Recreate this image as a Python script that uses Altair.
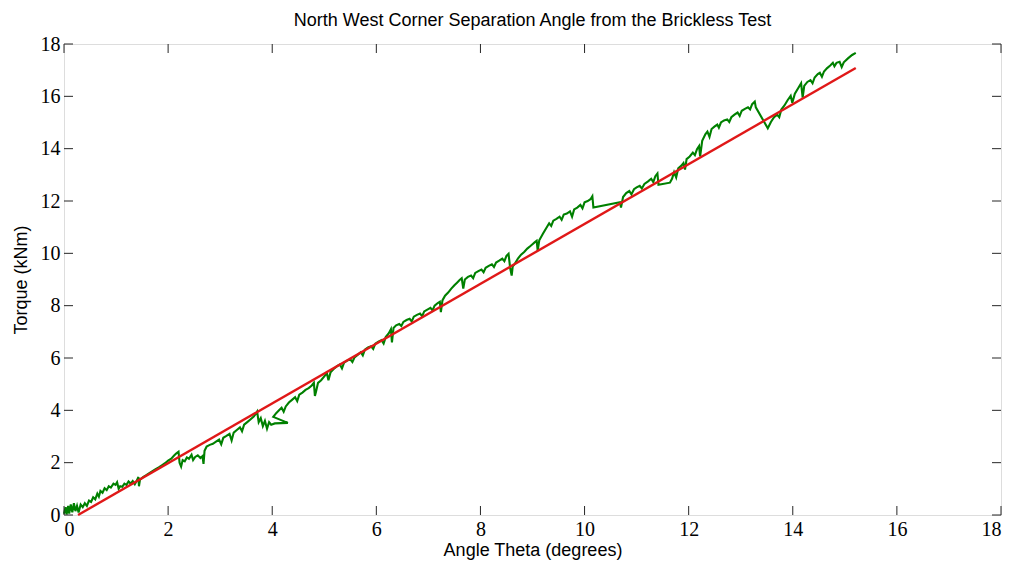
import altair as alt
import pandas as pd

# Measured torque vs. separation angle (degrees, kNm)
angle = [
    0.00, 0.03, 0.05, 0.08, 0.10, 0.13, 0.16, 0.19, 0.22, 0.25, 0.28, 0.32, 0.36, 0.40, 0.44, 0.48,
    0.52, 0.56, 0.60, 0.64, 0.67, 0.70, 0.74, 0.78, 0.82, 0.86, 0.90, 0.95, 0.99, 1.02, 1.05, 1.08,
    1.12, 1.16, 1.20, 1.24, 1.28, 1.32, 1.36, 1.40, 1.43, 1.44, 1.46, 1.52, 1.58, 1.64, 1.70, 1.76,
    1.82, 1.88, 1.94, 2.00, 2.06, 2.12, 2.16, 2.20, 2.22, 2.25, 2.28, 2.32, 2.36, 2.40, 2.45, 2.48,
    2.52, 2.57, 2.62, 2.66, 2.68, 2.70, 2.74, 2.80, 2.86, 2.92, 2.98, 3.02, 3.06, 3.12, 3.18, 3.22,
    3.26, 3.32, 3.38, 3.42, 3.46, 3.52, 3.58, 3.64, 3.68, 3.71, 3.74, 3.78, 3.82, 3.86, 3.90, 3.94,
    3.98, 4.05, 4.30, 4.02, 4.08, 4.14, 4.18, 4.22, 4.26, 4.32, 4.38, 4.44, 4.48, 4.52, 4.58, 4.64,
    4.70, 4.76, 4.80, 4.82, 4.84, 4.88, 4.94, 5.00, 5.05, 5.08, 5.12, 5.18, 5.24, 5.30, 5.34, 5.38,
    5.44, 5.50, 5.54, 5.58, 5.64, 5.70, 5.74, 5.78, 5.84, 5.90, 5.94, 5.98, 6.04, 6.10, 6.14, 6.18,
    6.24, 6.28, 6.30, 6.33, 6.38, 6.44, 6.48, 6.52, 6.58, 6.64, 6.68, 6.72, 6.78, 6.84, 6.88, 6.92,
    6.98, 7.04, 7.08, 7.12, 7.18, 7.22, 7.24, 7.27, 7.32, 7.38, 7.44, 7.50, 7.55, 7.60, 7.64, 7.67,
    7.70, 7.76, 7.82, 7.86, 7.90, 7.96, 8.02, 8.06, 8.10, 8.16, 8.22, 8.26, 8.30, 8.36, 8.42, 8.46,
    8.50, 8.54, 8.57, 8.60, 8.62, 8.66, 8.72, 8.78, 8.84, 8.90, 8.96, 9.00, 9.04, 9.08, 9.10, 9.13,
    9.20, 9.26, 9.32, 9.36, 9.40, 9.46, 9.52, 9.56, 9.60, 9.66, 9.72, 9.76, 9.80, 9.86, 9.92, 9.96,
    10.00, 10.06, 10.12, 10.15, 10.17, 10.68, 10.70, 10.74, 10.80, 10.86, 10.90, 10.95, 11.00, 11.06,
    11.10, 11.15, 11.22, 11.28, 11.32, 11.36, 11.40, 11.42, 11.64, 11.68, 11.72, 11.76, 11.80, 11.86,
    11.90, 11.93, 11.96, 12.02, 12.08, 12.12, 12.16, 12.20, 12.22, 12.26, 12.32, 12.36, 12.40, 12.44,
    12.50, 12.55, 12.58, 12.62, 12.68, 12.74, 12.78, 12.82, 12.88, 12.94, 12.98, 13.02, 13.08, 13.14,
    13.18, 13.22, 13.27, 13.29, 13.52, 13.58, 13.64, 13.70, 13.74, 13.78, 13.84, 13.90, 13.96, 13.99,
    14.04, 14.10, 14.16, 14.19, 14.22, 14.28, 14.34, 14.38, 14.42, 14.48, 14.52, 14.56, 14.60, 14.66,
    14.72, 14.77, 14.80, 14.84, 14.90, 14.94, 14.98, 15.06, 15.14, 15.21,
]
torque = [
    0.05, 0.30, 0.02, 0.35, 0.05, 0.40, 0.10, 0.45, 0.15, 0.35, 0.10, 0.40, 0.30, 0.45, 0.35, 0.55,
    0.50, 0.68, 0.60, 0.82, 0.70, 0.92, 0.85, 1.02, 0.95, 1.10, 1.05, 1.20, 1.15, 1.25, 1.00, 1.10,
    1.08, 1.20, 1.15, 1.28, 1.20, 1.30, 1.18, 1.32, 1.45, 1.10, 1.35, 1.45, 1.52, 1.60, 1.68, 1.75,
    1.82, 1.90, 1.98, 2.08, 2.15, 2.28, 2.36, 2.42, 2.00, 1.85, 2.10, 2.05, 2.20, 2.15, 2.30, 2.10,
    2.22, 2.28, 2.18, 2.25, 1.95, 2.45, 2.62, 2.68, 2.72, 2.80, 2.88, 2.70, 2.95, 3.02, 3.10, 2.85,
    3.15, 3.25, 3.35, 3.20, 3.45, 3.55, 3.65, 3.75, 3.85, 3.95, 3.55, 3.70, 3.40, 3.60, 3.30, 3.55,
    3.45, 3.50, 3.52, 3.75, 3.90, 4.02, 4.10, 3.95, 4.15, 4.30, 4.40, 4.50, 4.35, 4.60, 4.68, 4.78,
    4.85, 4.95, 5.05, 4.55, 4.70, 5.05, 5.15, 5.30, 5.42, 5.15, 5.45, 5.58, 5.68, 5.75, 5.60, 5.82,
    5.90, 5.95, 5.85, 6.02, 6.12, 6.22, 6.10, 6.32, 6.40, 6.45, 6.35, 6.55, 6.62, 6.68, 6.55, 6.80,
    6.95, 7.10, 6.60, 7.15, 7.25, 7.30, 7.22, 7.38, 7.45, 7.50, 7.40, 7.58, 7.65, 7.70, 7.60, 7.78,
    7.85, 7.92, 7.82, 8.00, 8.10, 8.15, 7.75, 8.20, 8.38, 8.50, 8.65, 8.78, 8.88, 8.98, 9.05, 8.65,
    9.00, 9.10, 9.15, 9.05, 9.25, 9.32, 9.38, 9.28, 9.45, 9.52, 9.58, 9.48, 9.65, 9.72, 9.80, 9.70,
    9.90, 9.98, 9.45, 9.15, 9.50, 9.60, 9.80, 9.95, 10.05, 10.18, 10.28, 10.35, 10.42, 10.48, 10.10, 10.50,
    10.75, 10.95, 11.15, 11.05, 11.25, 11.32, 11.40, 11.28, 11.48, 11.52, 11.60, 11.40, 11.68, 11.75, 11.85, 11.72,
    11.95, 12.00, 12.08, 12.18, 11.75, 11.95, 11.75, 12.15, 12.30, 12.38, 12.25, 12.45, 12.52, 12.58,
    12.48, 12.65, 12.75, 12.85, 12.72, 12.95, 13.05, 12.62, 12.70, 12.85, 13.10, 12.90, 13.25, 13.35,
    13.45, 13.20, 13.60, 13.70, 13.85, 13.75, 13.98, 14.10, 13.70, 14.30, 14.55, 14.65, 14.45, 14.75,
    14.85, 14.92, 14.80, 15.00, 15.08, 15.12, 15.02, 15.20, 15.30, 15.38, 15.25, 15.45, 15.52, 15.58,
    15.50, 15.70, 15.80, 15.58, 14.78, 15.02, 15.20, 15.30, 15.20, 15.50, 15.65, 15.85, 16.02, 15.75,
    16.10, 16.30, 16.50, 15.95, 16.40, 16.55, 16.62, 16.50, 16.72, 16.85, 16.90, 16.75, 16.95, 17.08,
    17.18, 17.28, 17.15, 17.28, 17.32, 17.12, 17.30, 17.45, 17.58, 17.66,
]

# Linear fit end points
fit_angle = [0.27, 15.21]
fit_torque = [0.0, 17.08]

ticks = [0, 2, 4, 6, 8, 10, 12, 14, 16, 18]

W, H = 937, 471
TICK_LEN = 9
FRAME = "#262626"

measured = pd.DataFrame({"angle": angle, "torque": torque, "order": range(len(angle))})
fit = pd.DataFrame({"angle": fit_angle, "torque": fit_torque})
tick_df = pd.DataFrame({"v": ticks})

x_scale = alt.Scale(domain=[0, 18], nice=False, zero=False)
y_scale = alt.Scale(domain=[0, 18], nice=False, zero=False)

x_axis = alt.Axis(
    values=ticks, ticks=False, domain=False, grid=False,
    labelFont="Liberation Serif", labelFontSize=20, labelColor="black", labelPadding=4,
    title="Angle Theta (degrees)", titleFont="Liberation Sans", titleFontSize=18,
    titleFontWeight="normal", titleColor="black", titlePadding=2,
)
y_axis = alt.Axis(
    values=ticks, ticks=False, domain=False, grid=False,
    labelFont="Liberation Serif", labelFontSize=20, labelColor="black", labelPadding=4,
    title="Torque (kNm)", titleFont="Liberation Sans", titleFontSize=18,
    titleFontWeight="normal", titleColor="black", titlePadding=10,
)

green = alt.Chart(measured).mark_line(color="#008000", strokeWidth=2.1).encode(
    x=alt.X("angle:Q", scale=x_scale, axis=x_axis),
    y=alt.Y("torque:Q", scale=y_scale, axis=y_axis),
    order="order:Q",
)

red = alt.Chart(fit).mark_line(color="#e01818", strokeWidth=2.4).encode(
    x=alt.X("angle:Q", scale=x_scale),
    y=alt.Y("torque:Q", scale=y_scale),
)

# Inward-pointing tick marks on all four sides
tick_color = dict(color=FRAME, strokeWidth=1)
bottom_ticks = alt.Chart(tick_df).mark_rule(**tick_color).encode(
    x=alt.X("v:Q", scale=x_scale), y=alt.value(H), y2=alt.value(H - TICK_LEN))
top_ticks = alt.Chart(tick_df).mark_rule(**tick_color).encode(
    x=alt.X("v:Q", scale=x_scale), y=alt.value(0), y2=alt.value(TICK_LEN))
left_ticks = alt.Chart(tick_df).mark_rule(**tick_color).encode(
    y=alt.Y("v:Q", scale=y_scale), x=alt.value(0), x2=alt.value(TICK_LEN))
right_ticks = alt.Chart(tick_df).mark_rule(**tick_color).encode(
    y=alt.Y("v:Q", scale=y_scale), x=alt.value(W), x2=alt.value(W - TICK_LEN))

chart = alt.layer(green, red, bottom_ticks, top_ticks, left_ticks, right_ticks).properties(
    width=W, height=H,
    title=alt.TitleParams(
        "North West Corner Separation Angle from the Brickless Test",
        font="Liberation Sans", fontSize=18, fontWeight="normal", color="black",
        anchor="middle", offset=4,
    ),
    padding={"left": 64, "top": 44, "right": 15, "bottom": 51},
    autosize=alt.AutoSizeParams(type="none"),
).configure_view(
    stroke=FRAME, strokeWidth=1.2,
).configure(background="white")

chart.save("out.html", embed_options={"renderer": "svg", "actions": False})
